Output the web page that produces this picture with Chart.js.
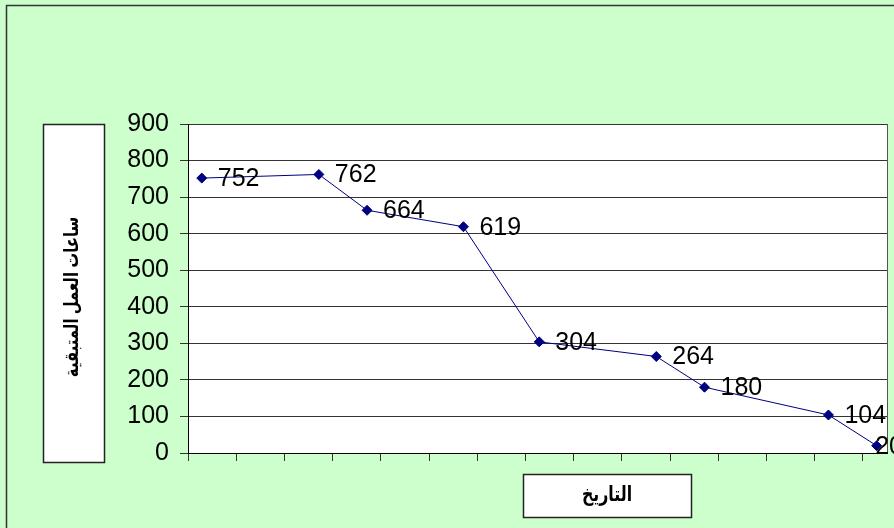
<!DOCTYPE html>
<html lang="ar">
<head>
<meta charset="utf-8">
<title>ساعات العمل المتبقية</title>
<script src="https://cdn.jsdelivr.net/npm/chart.js@4/dist/chart.umd.min.js"></script>
<style>
  html, body { margin: 0; padding: 0; background: #CCFFCC; }
  canvas { display: block; }
</style>
</head>
<body>
<canvas id="grafico" width="894" height="528"></canvas>
<script>
// dados (eixo x em dias, um traço a cada 7 dias)
var dias   = [2, 19, 26, 40, 51, 68, 75, 93, 100];
var horas  = [752, 762, 664, 619, 304, 264, 180, 104, 20];
var ticksY = [0, 100, 200, 300, 400, 500, 600, 700, 800, 900];
var tituloY = 'ساعات العمل المتبقية';
var tituloX = 'التاريخ';

var FONTE = '"Liberation Sans", Arial, sans-serif';
var FONTE_AR = 'Arial, "DejaVu Sans", sans-serif';

var pontos = dias.map(function (d, i) { return { x: d, y: horas[i] }; });

// ajusta o tamanho da fonte árabe para caber na largura medida
function fonteAjustada(ctx, txt, largura) {
  ctx.font = 'bold 16px ' + FONTE_AR;
  var w = ctx.measureText(txt).width;
  var tam = Math.min(20, 16 * largura / w);
  return 'bold ' + tam.toFixed(1) + 'px ' + FONTE_AR;
}

// fundo verde, moldura, área branca e caixas dos títulos
var moldura = {
  id: 'moldura',
  beforeDraw: function (chart) {
    var ctx = chart.ctx, a = chart.chartArea;
    ctx.save();
    ctx.fillStyle = '#CCFFCC';
    ctx.fillRect(0, 0, chart.width, chart.height);
    ctx.strokeStyle = '#333';
    ctx.lineWidth = 1.5;
    ctx.strokeRect(6.5, 5.5, chart.width + 20, chart.height + 20);
    ctx.fillStyle = '#FFFFFF';
    ctx.fillRect(a.left, a.top, a.right - a.left, a.bottom - a.top);

    // caixa do título Y
    ctx.fillStyle = '#FFFFFF';
    ctx.fillRect(43, 124, 61, 338);
    ctx.strokeStyle = '#222';
    ctx.lineWidth = 1.5;
    ctx.strokeRect(43.5, 124.5, 61, 338);
    ctx.fillStyle = '#000';
    ctx.direction = 'rtl';
    ctx.font = fonteAjustada(ctx, tituloY, 160);
    ctx.textAlign = 'center';
    ctx.textBaseline = 'middle';
    ctx.translate(73, 297);
    ctx.rotate(-Math.PI / 2);
    ctx.scale(1, 1.3); // letras mais altas, como no original
    ctx.fillText(tituloY, 0, 0);
    ctx.restore();

    // caixa do título X
    ctx.save();
    ctx.fillStyle = '#FFFFFF';
    ctx.fillRect(523, 474, 168, 43);
    ctx.strokeStyle = '#222';
    ctx.lineWidth = 1.5;
    ctx.strokeRect(523.5, 474.5, 168, 43);
    ctx.fillStyle = '#000';
    ctx.direction = 'rtl';
    ctx.font = fonteAjustada(ctx, tituloX, 50);
    ctx.textAlign = 'center';
    ctx.textBaseline = 'middle';
    ctx.translate(607, 495);
    ctx.scale(1, 1.3);
    ctx.fillText(tituloX, 0, 0);
    ctx.restore();
  },
  beforeDatasetsDraw: function (chart) {
    var ctx = chart.ctx, a = chart.chartArea;
    ctx.save();
    ctx.strokeStyle = '#555';
    ctx.lineWidth = 1;
    ctx.beginPath();
    ctx.moveTo(Math.round(a.right) + 0.5, a.top);
    ctx.lineTo(Math.round(a.right) + 0.5, a.bottom);
    ctx.stroke();
    ctx.restore();
  },
  afterDatasetsDraw: function (chart) {
    var ctx = chart.ctx;
    var meta = chart.getDatasetMeta(0);
    ctx.save();
    ctx.font = '25px ' + FONTE;
    ctx.fillStyle = '#000';
    ctx.textAlign = 'left';
    ctx.textBaseline = 'middle';
    meta.data.forEach(function (p, i) {
      var txt = String(horas[i]);
      var w = ctx.measureText(txt).width;
      var x = Math.min(p.x + 16, chart.width + 9 - w);
      ctx.fillText(txt, x, p.y + 1);
    });
    ctx.restore();
  }
};

new Chart(document.getElementById('grafico').getContext('2d'), {
  type: 'line',
  data: {
    datasets: [{
      data: pontos,
      borderColor: '#000080',
      borderWidth: 1,
      backgroundColor: '#000080',
      pointStyle: 'rectRot',
      pointRadius: 5,
      pointHoverRadius: 5,
      pointBorderColor: '#000080',
      pointBackgroundColor: '#000080',
      tension: 0,
      clip: false
    }]
  },
  options: {
    responsive: false,
    animation: false,
    events: [],
    layout: { padding: { top: 124, right: 7, left: 0, bottom: 0 } },
    plugins: { legend: { display: false }, tooltip: { enabled: false } },
    scales: {
      x: {
        type: 'linear',
        min: 0,
        max: 101.5,
        afterFit: function (s) { s.height = 75; },
        ticks: { stepSize: 7, includeBounds: false, display: false },
        grid: { drawOnChartArea: false, drawTicks: true, tickLength: 8, color: '#333' },
        border: { color: '#000', width: 1 }
      },
      y: {
        min: 0,
        max: 900,
        afterFit: function (s) { s.width = 188; },
        afterBuildTicks: function (s) { s.ticks = ticksY.map(function (v) { return { value: v }; }); },
        ticks: { color: '#000', font: { family: FONTE, size: 25 }, padding: 11 },
        grid: { color: '#333', lineWidth: 1, tickLength: 8 },
        border: { color: '#000', width: 1 }
      }
    }
  },
  plugins: [moldura]
});
</script>
</body>
</html>
